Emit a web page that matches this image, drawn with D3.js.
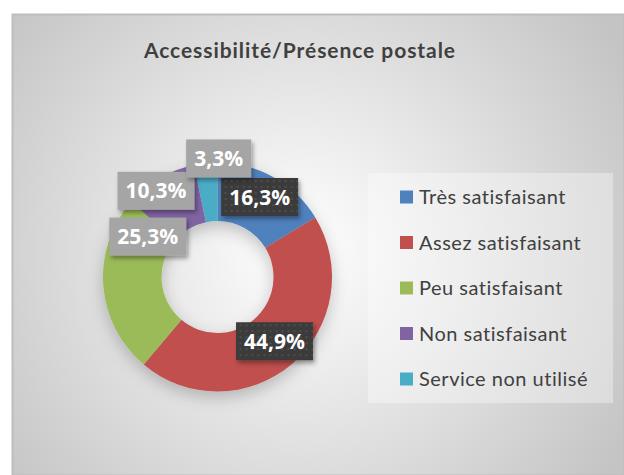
<!DOCTYPE html>
<html>
<head>
<meta charset="utf-8">
<script src="https://cdn.jsdelivr.net/npm/d3@7"></script>
<style>
body { margin: 0; background: #fff; }
svg { display: block; }
</style>
</head>
<body>
<script>

let width = 624;
let height = 475;

let title = "Accessibilité/Présence postale";
let categories = ["Très satisfaisant", "Assez satisfaisant", "Peu satisfaisant", "Non satisfaisant", "Service non utilisé"];
let values = [16.3, 44.9, 25.3, 10.3, 3.3];
let colors = ["#4f81bd", "#c0504d", "#9bbb59", "#8064a2", "#4bacc6"];

// label box look: dark for the two top ones, grey for the others
let labelDark = [true, true, false, false, false];
// hand moved labels (like in the excel sheet)
let labelNudge = [[0, -5], [1, -1], [16, -47], [-18, -12], [10, -33]];

let cx = 217.5, cy = 277;
let outerR = 114.5, innerR = 56;

let svg = d3.select("body")
	.append("svg")
		.attr("width", width)
		.attr("height", height);

let defs = svg.append("defs");

let bg = defs.append("radialGradient")
	.attr("id", "bg")
	.attr("gradientUnits", "userSpaceOnUse")
	.attr("cx", 300).attr("cy", 250).attr("r", 380);
bg.append("stop").attr("offset", "0%").attr("stop-color", "#ffffff");
bg.append("stop").attr("offset", "100%").attr("stop-color", "#c4c4c4");

let shadow = defs.append("filter").attr("id", "shadow")
	.attr("x", "-20%").attr("y", "-20%").attr("width", "150%").attr("height", "150%");
shadow.append("feDropShadow")
	.attr("dx", 2).attr("dy", 3).attr("stdDeviation", 2)
	.attr("flood-color", "#000").attr("flood-opacity", 0.35);

let ringShadow = defs.append("filter").attr("id", "ringShadow")
	.attr("x", "-20%").attr("y", "-20%").attr("width", "140%").attr("height", "150%");
ringShadow.append("feDropShadow")
	.attr("dx", 0).attr("dy", 6).attr("stdDeviation", 8)
	.attr("flood-color", "#000").attr("flood-opacity", 0.22);

let dots = defs.append("pattern").attr("id", "dots")
	.attr("patternUnits", "userSpaceOnUse")
	.attr("width", 6).attr("height", 6);
dots.append("rect").attr("width", 6).attr("height", 6).attr("fill", "#3b3b3b");
dots.append("rect").attr("x", 1).attr("y", 1).attr("width", 2).attr("height", 2).attr("fill", "#4d4d4d");

// chart area
svg.append("rect")
	.attr("x", 12.5).attr("y", 14.5)
	.attr("width", width - 12).attr("height", height - 14)
	.attr("fill", "url(#bg)")
	.attr("stroke", "#bdbdbd")
	.attr("stroke-width", 2);

svg.append("text")
	.attr("x", 144).attr("y", 58)
	.attr("font-family", "Lato")
	.attr("font-weight", "bold")
	.attr("font-size", 21)
	.attr("textLength", 311)
	.attr("lengthAdjust", "spacing")
	.attr("fill", "#404040")
	.text(title);

// donut
let pie = d3.pie().sort(null).value(d => d);
let arcs = pie(values);
let arc = d3.arc().innerRadius(innerR).outerRadius(outerR);

let ring = svg.append("g")
	.attr("transform", "translate(" + cx + "," + cy + ")")
	.attr("filter", "url(#ringShadow)");

ring.selectAll("path")
	.data(arcs)
	.enter().append("path")
		.attr("d", arc)
		.attr("fill", (d, i) => colors[i]);

// data labels
let labelArc = d3.arc().innerRadius(86).outerRadius(86);
let fmt = v => d3.format(".1f")(v).replace(".", ",") + "%";

let labels = svg.append("g")
	.attr("transform", "translate(" + cx + "," + cy + ")");

let lab = labels.selectAll("g.lab")
	.data(arcs)
	.enter().append("g")
		.attr("class", "lab")
		.attr("transform", (d, i) => {
			let c = labelArc.centroid(d);
			return "translate(" + (c[0] + labelNudge[i][0]) + "," + (c[1] + labelNudge[i][1]) + ")";
		});

lab.append("text")
	.attr("class", "val")
	.attr("text-anchor", "middle")
	.attr("dy", "0.36em")
	.attr("font-family", "Open Sans")
	.attr("font-weight", "bold")
	.attr("font-size", 21)
	.attr("fill", "#fff")
	.text(d => fmt(d.data));

lab.each(function(d, i) {
	let g = d3.select(this);
	let bb = g.select("text").node().getBBox();
	g.insert("rect", "text")
		.attr("x", bb.x - 8)
		.attr("y", -19)
		.attr("width", bb.width + 16)
		.attr("height", 38)
		.attr("fill", labelDark[i] ? "url(#dots)" : "#a5a5a5")
		.attr("filter", "url(#shadow)");
});

// legend
svg.append("rect")
	.attr("x", 368).attr("y", 173)
	.attr("width", 245).attr("height", 230)
	.attr("fill", "#ffffff")
	.attr("fill-opacity", 0.35);

let legend = svg.selectAll("g.legend")
	.data(categories)
	.enter().append("g")
		.attr("class", "legend")
		.attr("transform", (d, i) => "translate(400," + (197 + i * 45.5) + ")");

legend.append("rect")
	.attr("x", 0).attr("y", -6.5)
	.attr("width", 13).attr("height", 13)
	.attr("fill", (d, i) => colors[i]);

legend.append("text")
	.attr("x", 19).attr("y", 7)
	.attr("font-family", "Lato")
	.attr("font-size", 20)
	.attr("letter-spacing", 0.5)
	.attr("fill", "#404040")
	.text(d => d);

</script>
</body>
</html>
